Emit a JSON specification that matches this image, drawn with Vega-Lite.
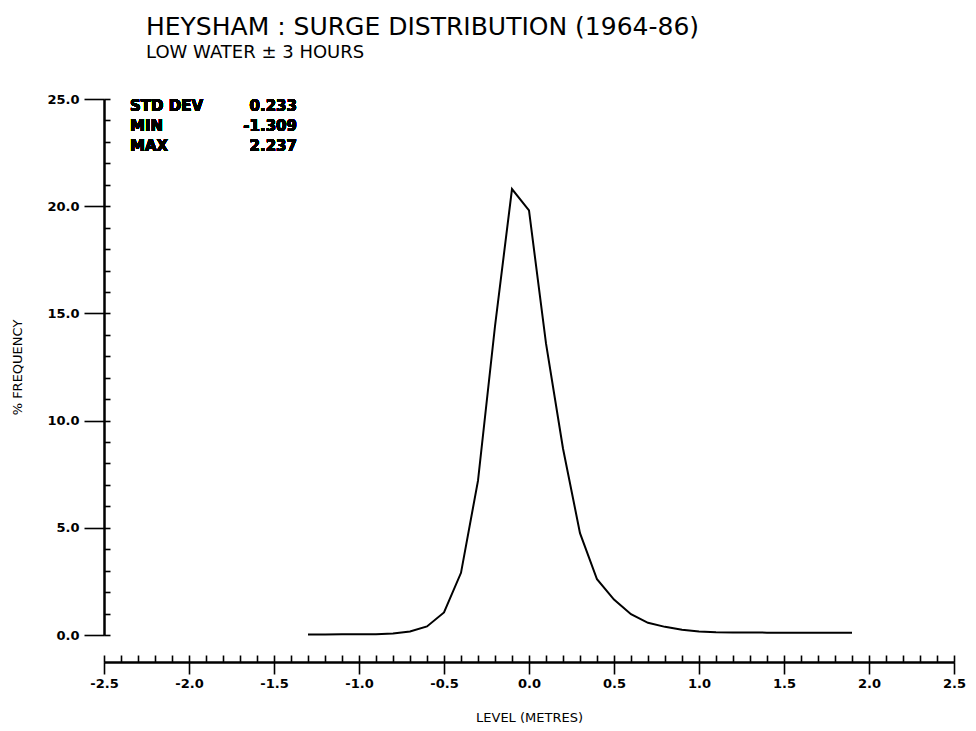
{
  "$schema": "https://vega.github.io/schema/vega-lite/v6.json",
  "width": 850,
  "height": 536,
  "autosize": "none",
  "padding": {"left": 104, "top": 99, "right": 22, "bottom": 96},
  "background": "white",
  "config": {
    "view": {"stroke": null},
    "font": "DejaVu Sans",
    "axis": {
      "grid": false,
      "domainColor": "black",
      "domainWidth": 2,
      "tickColor": "black",
      "tickWidth": 1.6,
      "labelColor": "black",
      "titleColor": "black",
      "labelFont": "DejaVu Sans",
      "labelFontWeight": "bold",
      "labelFontSize": 13,
      "titleFont": "DejaVu Sans",
      "titleFontWeight": 500,
      "titleFontSize": 13
    },
    "title": {"color": "black", "subtitleColor": "black"}
  },
  "title": {
    "text": "HEYSHAM : SURGE DISTRIBUTION (1964-86)",
    "subtitle": "LOW WATER ± 3 HOURS",
    "anchor": "start",
    "frame": "group",
    "dx": 42,
    "offset": 31,
    "font": "DejaVu Sans",
    "fontSize": 25,
    "fontWeight": "normal",
    "subtitleFont": "DejaVu Sans",
    "subtitleFontSize": 18,
    "subtitlePadding": 4
  },
  "data": {
    "values": [
      {"level": -1.3, "freq": 0.02},
      {"level": -1.2, "freq": 0.02},
      {"level": -1.1, "freq": 0.03},
      {"level": -1.0, "freq": 0.03},
      {"level": -0.9, "freq": 0.04},
      {"level": -0.8, "freq": 0.07},
      {"level": -0.7, "freq": 0.16},
      {"level": -0.6, "freq": 0.4},
      {"level": -0.5, "freq": 1.05},
      {"level": -0.4, "freq": 2.9},
      {"level": -0.3, "freq": 7.2},
      {"level": -0.2, "freq": 14.4},
      {"level": -0.1, "freq": 20.8},
      {"level": 0.0, "freq": 19.8},
      {"level": 0.1, "freq": 13.6},
      {"level": 0.2, "freq": 8.7},
      {"level": 0.3, "freq": 4.75},
      {"level": 0.4, "freq": 2.6},
      {"level": 0.5, "freq": 1.65},
      {"level": 0.6, "freq": 0.97},
      {"level": 0.7, "freq": 0.57},
      {"level": 0.8, "freq": 0.38},
      {"level": 0.9, "freq": 0.24},
      {"level": 1.0, "freq": 0.16},
      {"level": 1.1, "freq": 0.13},
      {"level": 1.2, "freq": 0.12},
      {"level": 1.3, "freq": 0.12},
      {"level": 1.4, "freq": 0.11},
      {"level": 1.5, "freq": 0.11},
      {"level": 1.6, "freq": 0.11},
      {"level": 1.7, "freq": 0.1},
      {"level": 1.8, "freq": 0.1},
      {"level": 1.9, "freq": 0.1}
    ]
  },
  "resolve": {"axis": {"x": "independent", "y": "independent"}},
  "layer": [
    {
      "mark": {"type": "line", "color": "black", "strokeWidth": 2, "clip": false},
      "encoding": {
        "x": {
          "field": "level",
          "type": "quantitative",
          "scale": {"domain": [-2.5, 2.5], "nice": false, "zero": false},
          "axis": {
            "orient": "bottom",
            "offset": 27,
            "title": "LEVEL (METRES)",
            "values": [-2.5, -2.0, -1.5, -1.0, -0.5, 0.0, 0.5, 1.0, 1.5, 2.0, 2.5],
            "labelExpr": "replace(format(datum.value, '.1f'), '\u2212', '-')",
            "tickSize": 12,
            "labelPadding": 3,
            "titlePadding": 21,
            "labelFlush": false,
            "labelOverlap": false
          }
        },
        "y": {
          "field": "freq",
          "type": "quantitative",
          "scale": {"domain": [0, 25], "nice": false, "zero": true},
          "axis": {
            "orient": "left",
            "title": "% FREQUENCY",
            "values": [0, 5, 10, 15, 20, 25],
            "format": ".1f",
            "tickSize": 20,
            "labelPadding": 5,
            "titlePadding": 22,
            "labelFlush": false,
            "labelOverlap": false
          }
        }
      }
    },
    {
      "mark": {"type": "text", "align": "left", "baseline": "top", "fontSize": 15, "fontWeight": "bold", "lineHeight": 20, "color": "black", "font": "DejaVu Sans"},
      "encoding": {
        "x": {
          "datum": -2.347,
          "type": "quantitative",
          "axis": {
            "orient": "bottom",
            "offset": 27,
            "title": null,
            "labels": false,
            "values": [-2.5, -2.4, -2.3, -2.2, -2.1, -2.0, -1.9, -1.8, -1.7, -1.6, -1.5, -1.4, -1.3, -1.2, -1.1, -1.0, -0.9, -0.8, -0.7, -0.6, -0.5, -0.4, -0.3, -0.2, -0.1, 0.0, 0.1, 0.2, 0.3, 0.4, 0.5, 0.6, 0.7, 0.8, 0.9, 1.0, 1.1, 1.2, 1.3, 1.4, 1.5, 1.6, 1.7, 1.8, 1.9, 2.0, 2.1, 2.2, 2.3, 2.4, 2.5],
            "tickSize": -7
          }
        },
        "y": {
          "datum": 25,
          "type": "quantitative",
          "axis": {
            "orient": "left",
            "title": null,
            "labels": false,
            "values": [0, 1, 2, 3, 4, 5, 6, 7, 8, 9, 10, 11, 12, 13, 14, 15, 16, 17, 18, 19, 20, 21, 22, 23, 24, 25],
            "tickSize": -6
          }
        },
        "text": {"value": ["STD DEV", "MIN", "MAX"]}
      }
    },
    {
      "mark": {"type": "text", "align": "right", "baseline": "top", "fontSize": 15, "fontWeight": "bold", "lineHeight": 20, "color": "black", "font": "DejaVu Sans"},
      "encoding": {
        "x": {"datum": -1.365, "type": "quantitative", "axis": null},
        "y": {"datum": 25, "type": "quantitative", "axis": null},
        "text": {"value": ["0.233", "-1.309", "2.237"]}
      }
    }
  ]
}
